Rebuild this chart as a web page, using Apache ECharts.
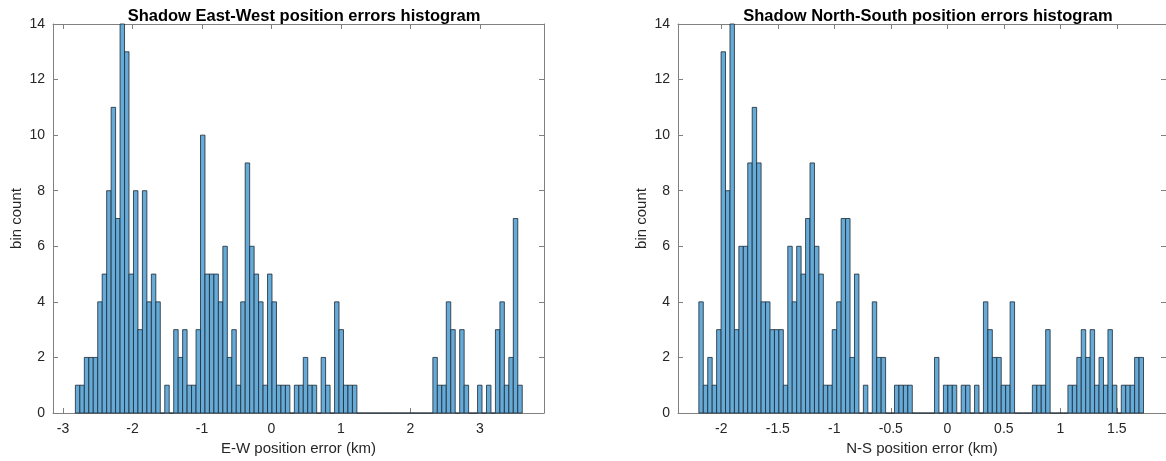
<!DOCTYPE html>
<html>
<head>
<meta charset="utf-8">
<script src="https://cdn.jsdelivr.net/npm/echarts@6/dist/echarts.min.js"></script>
<style>
  html, body { margin: 0; padding: 0; background: #fff; }
  #chart { width: 1166px; height: 461px; }
</style>
</head>
<body>
<div id="chart"></div>
<script>
// E-W histogram: 100 bins from -2.822 km
const ewStart = -2.822
const ewBinWidth = 0.0643
const ewCounts = [
  1, 1, 2, 2, 2, 4, 5, 8, 11, 7,
  14, 13, 5, 8, 3, 8, 4, 5, 4, 0,
  1, 0, 3, 2, 3, 1, 1, 3, 10, 5,
  5, 5, 4, 6, 2, 3, 1, 4, 9, 6,
  5, 4, 1, 5, 4, 1, 1, 1, 0, 1,
  1, 2, 1, 1, 0, 2, 1, 0, 4, 3,
  1, 1, 1, 0, 0, 0, 0, 0, 0, 0,
  0, 0, 0, 0, 0, 0, 0, 0, 0, 0,
  2, 1, 1, 4, 3, 0, 3, 1, 0, 0,
  1, 0, 1, 0, 3, 4, 1, 2, 7, 1
]
const ewTicks = [-3, -2, -1, 0, 1, 2, 3]

// N-S histogram: 100 bins from -2.199 km
const nsStart = -2.199
const nsBinWidth = 0.03935
const nsCounts = [
  4, 1, 2, 1, 3, 13, 8, 14, 3, 6,
  6, 9, 11, 9, 4, 4, 3, 3, 3, 1,
  6, 4, 6, 5, 7, 9, 6, 5, 1, 1,
  3, 4, 7, 7, 2, 5, 0, 1, 0, 4,
  2, 2, 0, 0, 1, 1, 1, 1, 0, 0,
  0, 0, 0, 2, 0, 1, 1, 1, 0, 1,
  1, 0, 1, 0, 4, 3, 2, 2, 1, 1,
  4, 0, 0, 0, 0, 1, 1, 1, 3, 0,
  0, 0, 0, 1, 1, 2, 3, 2, 3, 1,
  2, 1, 3, 1, 0, 1, 1, 1, 2, 2
]
const nsTicks = [-2, -1.5, -1, -0.5, 0, 0.5, 1, 1.5]

const yTicks = [0, 2, 4, 6, 8, 10, 12, 14]

const FONT = '"Liberation Sans", Arial, Helvetica, sans-serif'
const TXT = '#262626'
const BOX = '#808080'

function toBins(start, width, counts){
  return counts.map((c, i) => [start + i * width, start + (i + 1) * width, c])
}

function renderHist(params, api){
  const lo = api.coord([api.value(0), 0])
  const hi = api.coord([api.value(1), api.value(2)])
  return {
    type: 'rect',
    shape: { x: lo[0], y: hi[1], width: hi[0] - lo[0], height: lo[1] - hi[1] },
    style: { fill: '#66aad7', stroke: '#1c2833', lineWidth: 0.8 }
  }
}

function xAxes(grid, min, max, ticks, name){
  const bottom = {
    type: 'value', gridIndex: grid, position: 'bottom', min: min, max: max,
    name: name, nameLocation: 'middle', nameGap: 25,
    nameTextStyle: { fontFamily: FONT, fontSize: 15, color: TXT },
    axisLine: { show: true, onZero: false, lineStyle: { color: BOX, width: 1 } },
    axisTick: { show: true, inside: true, length: 5, customValues: ticks, lineStyle: { color: BOX } },
    axisLabel: { customValues: ticks, margin: 9, fontFamily: FONT, fontSize: 14, color: TXT },
    splitLine: { show: false }
  }
  const top = {
    type: 'value', gridIndex: grid, position: 'top', min: min, max: max,
    axisLine: { show: true, onZero: false, lineStyle: { color: BOX, width: 1 } },
    axisTick: { show: true, inside: true, length: 5, customValues: ticks, lineStyle: { color: BOX } },
    axisLabel: { show: false },
    splitLine: { show: false }
  }
  return [bottom, top]
}

function yAxes(grid){
  const left = {
    type: 'value', gridIndex: grid, position: 'left', min: 0, max: 14, interval: 2,
    name: 'bin count', nameLocation: 'middle', nameGap: 29, nameRotate: 90,
    nameTextStyle: { fontFamily: FONT, fontSize: 15, color: TXT },
    axisLine: { show: true, onZero: false, lineStyle: { color: BOX, width: 1 } },
    axisTick: { show: true, inside: true, length: 5, customValues: yTicks, lineStyle: { color: BOX } },
    axisLabel: { customValues: yTicks, margin: 8, fontFamily: FONT, fontSize: 14, color: TXT },
    splitLine: { show: false }
  }
  const right = {
    type: 'value', gridIndex: grid, position: 'right', min: 0, max: 14, interval: 2,
    axisLine: { show: true, onZero: false, lineStyle: { color: BOX, width: 1 } },
    axisTick: { show: true, inside: true, length: 5, customValues: yTicks, lineStyle: { color: BOX } },
    axisLabel: { show: false },
    splitLine: { show: false }
  }
  return [left, right]
}

const ewMin = -3.144, ewMax = 3.921
const nsMin = -2.3835, nsMax = 1.935

var myChart = echarts.init(document.getElementById('chart'), null, { renderer: 'canvas' })

const option = {
  animation: false,
  backgroundColor: '#ffffff',
  title: [
    { text: 'Shadow East-West position errors histogram', left: 299, top: 3, textAlign: 'center',
      textStyle: { fontFamily: FONT, fontSize: 16.5, fontWeight: 'bold', color: '#000' } },
    { text: 'Shadow North-South position errors histogram', left: 923, top: 3, textAlign: 'center',
      textStyle: { fontFamily: FONT, fontSize: 16.5, fontWeight: 'bold', color: '#000' } }
  ],
  grid: [
    { left: 53, top: 24, width: 491, height: 389 },
    { left: 678, top: 24, width: 491, height: 389 }
  ],
  xAxis: xAxes(0, ewMin, ewMax, ewTicks, 'E-W position error (km)')
    .concat(xAxes(1, nsMin, nsMax, nsTicks, 'N-S position error (km)')),
  yAxis: yAxes(0).concat(yAxes(1)),
  series: [
    { type: 'custom', xAxisIndex: 0, yAxisIndex: 0, renderItem: renderHist,
      data: toBins(ewStart, ewBinWidth, ewCounts) },
    { type: 'custom', xAxisIndex: 2, yAxisIndex: 2, renderItem: renderHist,
      data: toBins(nsStart, nsBinWidth, nsCounts) }
  ]
}

myChart.setOption(option)
</script>
</body>
</html>
